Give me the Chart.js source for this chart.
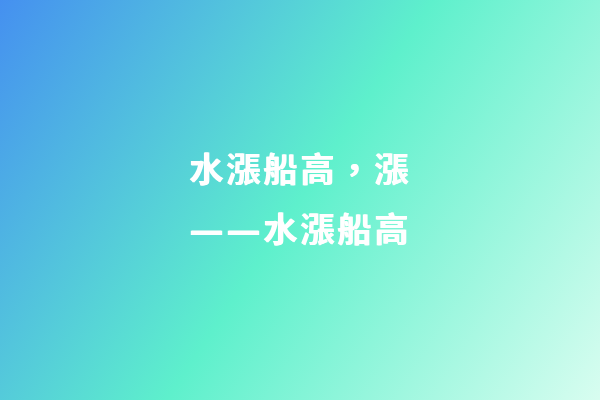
<!DOCTYPE html>
<html>
<head>
<meta charset="utf-8">
<script src="https://cdn.jsdelivr.net/npm/chart.js@4"></script>
<style>
  html, body { margin: 0; padding: 0; background: #ffffff; }
  #wrap { width: 600px; height: 400px; }
</style>
</head>
<body>
<div id="wrap"><canvas id="chart" width="600" height="400"></canvas></div>
<script>
// the picture has no marks, only two lines of text on a gradient
const titleLines = ['水漲船高，漲', '——水漲船高'];
const categories = [];
const values = [];
const gradientStops = [0, 0.5, 1];
const gradientColors = ['#4590f0', '#5ef0cc', '#d8fdf0'];

// paints the diagonal gradient behind everything, spaces the letters and
// thickens them a little with a white shadow
const background = {
  id: 'background',
  beforeDraw(chart) {
    const { ctx, width, height } = chart;
    const g = ctx.createLinearGradient(0, 0, width, height);
    gradientStops.forEach((s, i) => g.addColorStop(s, gradientColors[i]));
    ctx.save();
    ctx.fillStyle = g;
    ctx.fillRect(0, 0, width, height);
    ctx.restore();
    ctx.letterSpacing = '3px';
    ctx.shadowColor = '#ffffff';
    ctx.shadowBlur = 0;
    ctx.shadowOffsetX = 1;
    ctx.shadowOffsetY = 0;
  }
};

function initChart() {
  const ctx = document.getElementById('chart').getContext('2d');
  new Chart(ctx, {
    type: 'bar',
    data: {
      labels: categories,
      datasets: [{ data: values }]
    },
    options: {
      responsive: false,
      animation: false,
      layout: { padding: { left: 189, top: 0 } },
      scales: {
        x: { display: false },
        y: { display: false }
      },
      plugins: {
        legend: { display: false },
        tooltip: { enabled: false },
        title: {
          display: true,
          text: titleLines,
          align: 'start',
          color: '#ffffff',
          padding: { top: 143, bottom: 0 },
          font: {
            family: '"DejaVu Sans", "Noto Sans CJK TC", "Noto Sans CJK SC", sans-serif',
            size: 34,
            weight: 'bold',
            lineHeight: 60 / 34
          }
        }
      }
    },
    plugins: [background]
  });
}

initChart();
</script>
</body>
</html>
